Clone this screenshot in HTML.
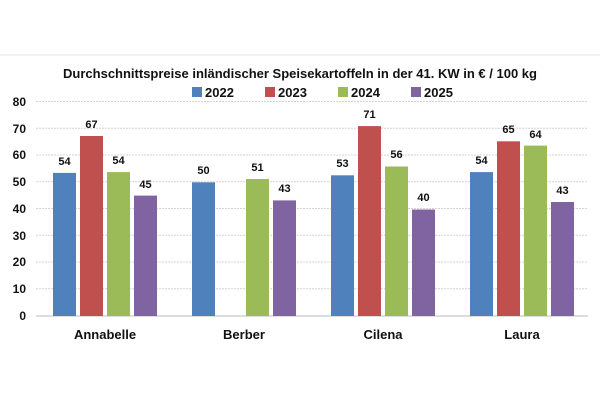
<!DOCTYPE html><html><head><style>body{margin:0;background:#fff}</style></head><body>
<svg width="600" height="400" xmlns="http://www.w3.org/2000/svg" font-family="Liberation Sans, sans-serif" font-weight="bold">
<line x1="0" y1="55" x2="600" y2="55" stroke="#e4e4e4"/>
<text x="300" y="78" font-size="13" text-anchor="middle" fill="#111">Durchschnittspreise inländischer Speisekartoffeln in der 41. KW in € / 100 kg</text>
<g font-size="13" fill="#111">
<rect x="192" y="87" width="10" height="10" fill="#4f81bd"/><text x="205" y="97">2022</text>
<rect x="265" y="87" width="10" height="10" fill="#c0504d"/><text x="278" y="97">2023</text>
<rect x="338" y="87" width="10" height="10" fill="#9bbb59"/><text x="351" y="97">2024</text>
<rect x="411" y="87" width="10" height="10" fill="#8064a2"/><text x="424" y="97">2025</text>
</g>
<g stroke="#d4d4d4" stroke-dasharray="2,1">
<line x1="36" x2="588" y1="101.5" y2="101.5"/><line x1="36" x2="588" y1="128.3" y2="128.3"/><line x1="36" x2="588" y1="155" y2="155"/><line x1="36" x2="588" y1="181.8" y2="181.8"/><line x1="36" x2="588" y1="208.5" y2="208.5"/><line x1="36" x2="588" y1="235.3" y2="235.3"/><line x1="36" x2="588" y1="262" y2="262"/><line x1="36" x2="588" y1="288.8" y2="288.8"/>
</g>
<line x1="36" x2="588" y1="316" y2="316" stroke="#bbb"/>
<g font-size="12" text-anchor="end" fill="#111">
<text x="26" y="106">80</text><text x="26" y="133">70</text><text x="26" y="159">60</text><text x="26" y="186">50</text><text x="26" y="213">40</text><text x="26" y="240">30</text><text x="26" y="266">20</text><text x="26" y="293">10</text><text x="26" y="320">0</text>
</g>
<g>
<rect x="53" y="172.9" width="23" height="143.1" fill="#4f81bd"/>
<rect x="80" y="136" width="23" height="180" fill="#c0504d"/>
<rect x="107" y="172.1" width="23" height="143.9" fill="#9bbb59"/>
<rect x="134" y="195.6" width="23" height="120.4" fill="#8064a2"/>
<rect x="192" y="182.3" width="23" height="133.7" fill="#4f81bd"/>
<rect x="246" y="179" width="23" height="137" fill="#9bbb59"/>
<rect x="273" y="200.4" width="23" height="115.6" fill="#8064a2"/>
<rect x="331" y="175.3" width="23" height="140.7" fill="#4f81bd"/>
<rect x="358" y="126.1" width="23" height="189.9" fill="#c0504d"/>
<rect x="385" y="166.5" width="23" height="149.5" fill="#9bbb59"/>
<rect x="412" y="209.5" width="23" height="106.5" fill="#8064a2"/>
<rect x="470" y="172.1" width="23" height="143.9" fill="#4f81bd"/>
<rect x="497" y="141.3" width="23" height="174.7" fill="#c0504d"/>
<rect x="524" y="145.6" width="23" height="170.4" fill="#9bbb59"/>
<rect x="551" y="202" width="23" height="114" fill="#8064a2"/>
</g>
<g font-size="11" text-anchor="middle" fill="#111">
<text x="64.5" y="165">54</text><text x="91.5" y="128">67</text><text x="118.5" y="164">54</text><text x="145.5" y="188">45</text>
<text x="203.5" y="174">50</text><text x="257.5" y="171">51</text><text x="284.5" y="192">43</text>
<text x="342.5" y="167">53</text><text x="369.5" y="118">71</text><text x="396.5" y="158">56</text><text x="423.5" y="201">40</text>
<text x="481.5" y="164">54</text><text x="508.5" y="133">65</text><text x="535.5" y="138">64</text><text x="562.5" y="194">43</text>
</g>
<g font-size="13" text-anchor="middle" fill="#111">
<text x="105" y="339">Annabelle</text><text x="244" y="339">Berber</text><text x="383" y="339">Cilena</text><text x="522" y="339">Laura</text>
</g>
</svg></body></html>
